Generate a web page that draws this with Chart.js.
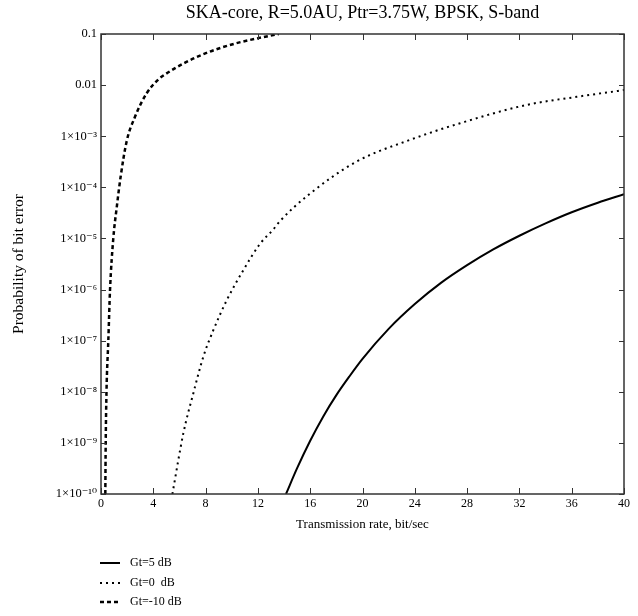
<!DOCTYPE html>
<html><head><meta charset="utf-8">
<script src="https://cdn.jsdelivr.net/npm/chart.js@4"></script>
<style>html,body{margin:0;padding:0;background:#fff}#wrap{width:638px;height:616px}</style>
</head><body><div id="wrap"><canvas id="c" width="638" height="616"></canvas></div>
<script>
const titleText = "SKA-core, R=5.0AU, Ptr=3.75W, BPSK, S-band";
const xTitle = "Transmission rate, bit/sec";
const yTitle = "Probability of bit error";
const seriesNames = ["Gt=5 dB", "Gt=0  dB", "Gt=-10 dB"];
const xTicks = [0, 4, 8, 12, 16, 20, 24, 28, 32, 36, 40];
const yTickValues = [1e-10, 1e-9, 1e-8, 1e-7, 1e-6, 1e-5, 1e-4, 1e-3, 0.01, 0.1];
const yTickLabels = ["1\u00d710\u207b\u00b9\u2070", "1\u00d710\u207b\u2079", "1\u00d710\u207b\u2078", "1\u00d710\u207b\u2077",
  "1\u00d710\u207b\u2076", "1\u00d710\u207b\u2075", "1\u00d710\u207b\u2074", "1\u00d710\u207b\u00b3", "0.01", "0.1"];

// Gt = 5 dB (solid)
const gt5Rate = [14.15, 15, 16, 17, 18, 19, 20, 22, 24, 26, 28, 30, 32, 34, 36, 38, 40];
const gt5Ber  = [1.0e-10, 3.2e-10, 1.1e-9, 3.3e-9, 8.6e-9, 2.0e-8, 4.4e-8, 1.7e-7, 5.2e-7, 1.35e-6, 3.0e-6, 6.1e-6, 1.13e-5, 1.97e-5, 3.25e-5, 5.0e-5, 7.3e-5];
// Gt = 0 dB (dotted)
const gt0Rate = [5.46, 6.3, 7.06, 7.83, 8.59, 9.62, 10.89, 12.17, 13.18, 13.7, 15.86, 19.56, 23.64, 27.47, 32.57, 36.39, 40.0];
const gt0Ber  = [1.0e-10, 1.55e-9, 9.3e-9, 4.9e-8, 1.6e-7, 6.2e-7, 2.4e-6, 7.9e-6, 1.5e-5, 2.2e-5, 7.1e-5, 3.2e-4, 8.5e-4, 1.8e-3, 4.1e-3, 5.9e-3, 8.0e-3];
// Gt = -10 dB (dashed)
const gtm10Rate = [0.33, 0.36, 0.42, 0.56, 0.69, 0.94, 1.2, 1.5, 1.96, 2.6, 3.49, 4.38, 4.9, 6.43, 8.21, 10.25, 12.04, 13.6];
const gtm10Ber  = [1.0e-10, 1.0e-9, 1.0e-8, 1.0e-7, 9.8e-7, 1.0e-5, 4.0e-5, 1.6e-4, 7.9e-4, 2.4e-3, 6.9e-3, 1.29e-2, 1.62e-2, 2.75e-2, 4.4e-2, 6.5e-2, 8.3e-2, 0.1];

const toPts = (xs, ys) => xs.map((x, i) => ({x: x, y: ys[i]}));
const serif = "'Liberation Serif', 'Times New Roman', 'DejaVu Serif', serif";
Chart.defaults.font.family = serif;
Chart.defaults.color = '#000';

const styles = [
  {borderDash: [], borderWidth: 2},
  {borderDash: [2, 4], borderWidth: 2},
  {borderDash: [4, 3], borderWidth: 2.5}
];

const frameTicks = {
  id: 'frameTicks',
  afterDatasetsDraw(chart) {
    const {ctx, chartArea: {left, right, top, bottom}, scales: {x, y}} = chart;
    ctx.save();
    ctx.strokeStyle = '#333';
    ctx.lineWidth = 1;
    ctx.beginPath();
    xTicks.forEach(v => {
      const px = Math.round(x.getPixelForValue(v)) + 0.5;
      ctx.moveTo(px, bottom); ctx.lineTo(px, bottom - 6);
      ctx.moveTo(px, top); ctx.lineTo(px, top + 6);
    });
    yTickValues.forEach(v => {
      const py = Math.round(y.getPixelForValue(v)) + 0.5;
      ctx.moveTo(left, py); ctx.lineTo(left + 5, py);
      ctx.moveTo(right, py); ctx.lineTo(right - 5, py);
    });
    ctx.stroke();
    ctx.lineWidth = 1.5;
    ctx.strokeRect(left, top, right - left, bottom - top);
    ctx.restore();
  }
};

const sideLegend = {
  id: 'sideLegend',
  afterDraw(chart) {
    const ctx = chart.ctx;
    ctx.save();
    ctx.font = '12px ' + serif;
    ctx.fillStyle = '#000';
    ctx.textBaseline = 'middle';
    ctx.textAlign = 'left';
    const rows = [563, 583, 602];
    chart.data.datasets.forEach((ds, i) => {
      ctx.strokeStyle = '#000';
      ctx.lineWidth = ds.borderWidth;
      ctx.setLineDash(ds.borderDash);
      ctx.beginPath();
      ctx.moveTo(100, rows[i]); ctx.lineTo(120, rows[i]);
      ctx.stroke();
      ctx.setLineDash([]);
      ctx.fillText(ds.label, 130, rows[i]);
    });
    ctx.restore();
  }
};

const datasets = [
  [gt5Rate, gt5Ber], [gt0Rate, gt0Ber], [gtm10Rate, gtm10Ber]
].map((pair, i) => ({
  label: seriesNames[i],
  data: toPts(pair[0], pair[1]),
  borderColor: '#000',
  backgroundColor: '#000',
  borderWidth: styles[i].borderWidth,
  borderDash: styles[i].borderDash,
  pointRadius: 0,
  fill: false,
  cubicInterpolationMode: 'monotone'
}));

new Chart(document.getElementById('c'), {
  type: 'line',
  data: {datasets: datasets},
  options: {
    responsive: false,
    animation: false,
    devicePixelRatio: 1,
    layout: {padding: {left: 0, right: 14, top: 0, bottom: 82}},
    plugins: {
      legend: {display: false},
      tooltip: {enabled: false},
      title: {display: true, text: titleText, color: '#000', fullSize: false,
        font: {size: 18, weight: 'normal', family: serif, lineHeight: 1.2},
        padding: {top: 2, bottom: 10.4}}
    },
    scales: {
      x: {
        type: 'linear', min: 0, max: 40,
        grid: {display: false, drawTicks: false},
        border: {display: false},
        afterBuildTicks: s => { s.ticks = xTicks.map(v => ({value: v})); },
        afterFit: s => { s.height = 40; s.paddingLeft = 0; s.paddingRight = 0; },
        ticks: {padding: 3, color: '#000', font: {size: 12}, maxRotation: 0, autoSkip: false,
          callback: v => String(v)},
        title: {display: true, text: xTitle, color: '#000', font: {size: 13}, padding: {top: 0, bottom: 2}}
      },
      y: {
        type: 'logarithmic', min: 1e-10, max: 0.1,
        grid: {display: false, drawTicks: false},
        border: {display: false},
        afterBuildTicks: s => { s.ticks = yTickValues.map(v => ({value: v})); },
        afterFit: s => { s.width = 101; s.paddingTop = 0; s.paddingBottom = 0; },
        ticks: {padding: 4, color: '#000', font: {size: 12.5}, autoSkip: false,
          callback: (v, i) => yTickLabels[i]},
        title: {display: true, text: yTitle, color: '#000', font: {size: 15.5}, padding: {top: 10, bottom: 0}}
      }
    }
  },
  plugins: [frameTicks, sideLegend]
});
</script>
</body></html>
